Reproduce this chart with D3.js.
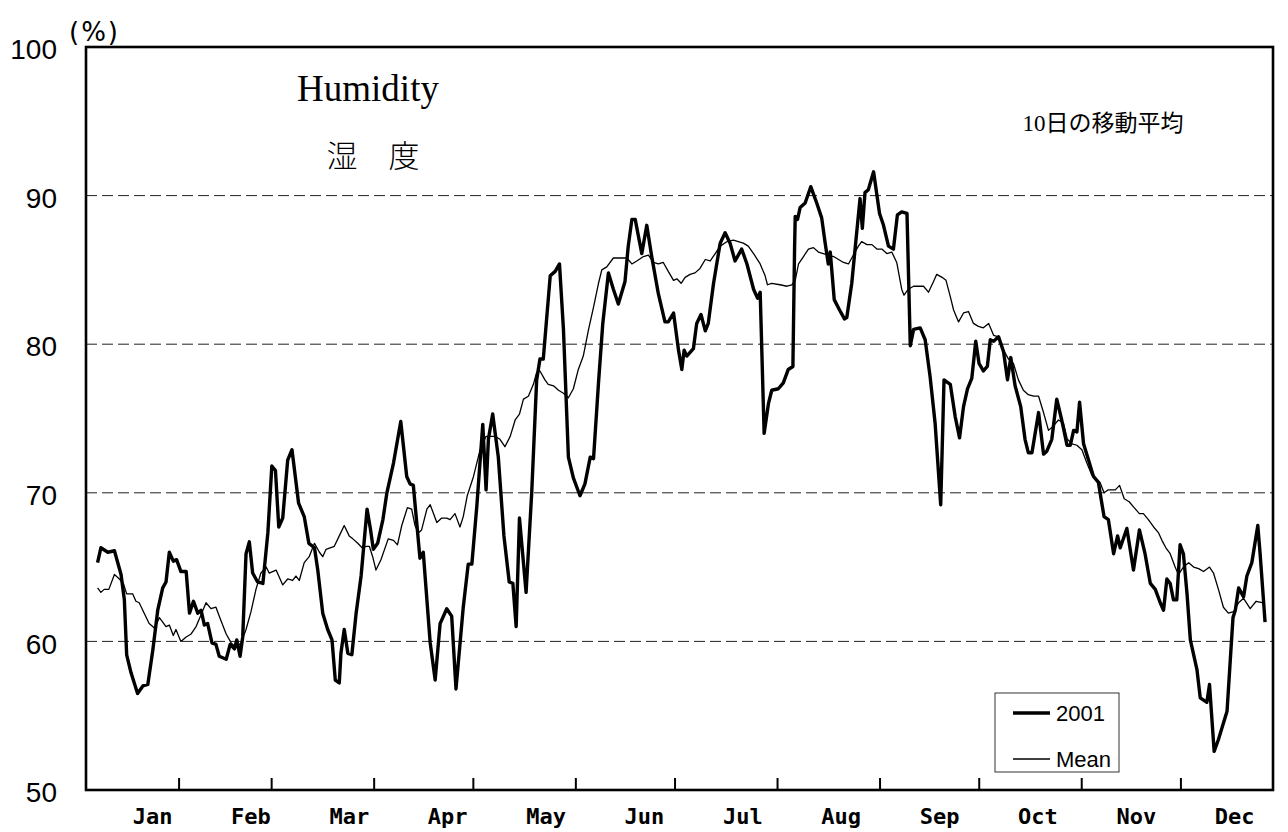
<!DOCTYPE html>
<html><head><meta charset="utf-8">
<script src="https://cdn.jsdelivr.net/npm/d3@7"></script>
<style>body{margin:0;background:#fff}svg{display:block}</style>
</head><body><svg id="c" width="1288" height="832"></svg>
<script>
// ---- data (day of year, humidity %) ----
const days2001=[7.5,8.5,10.6,12.6,14.6,15.6,16.3,17.6,19.6,21.2,22.7,24.2,25.7,27.2,28.2,29.2,30.4,31.4,32.7,34.3,35.3,36.5,37.8,38.8,39.8,40.8,42.1,43.3,44.3,46.4,47.6,48.9,49.6,50.6,51.4,52.4,53.4,54.4,55.9,57.5,59.0,60.2,61.3,62.3,63.5,65.0,66.3,68.3,70.0,71.4,73.1,74.1,75.6,77.1,78.4,79.4,80.6,81.1,82.1,83.2,84.4,85.7,87.2,89.0,90.0,90.9,92.2,93.8,95.0,97.0,99.2,101.0,102.0,103.0,105.0,106.0,108.1,109.6,111.1,113.1,114.6,115.9,118.1,119.6,120.7,122.2,124.0,125.0,125.7,127.0,128.7,130.4,132.0,133.1,134.1,135.1,137.1,138.8,140.3,141.3,142.3,144.4,145.9,147.2,148.4,149.9,151.4,153.4,154.9,156.5,157.5,159.0,160.3,162.0,163.5,165.0,167.0,168.0,169.1,170.1,172.1,173.6,175.1,177.1,179.1,180.1,181.7,183.2,184.2,184.9,185.7,187.7,188.7,190.0,191.3,192.2,193.8,195.8,197.3,198.8,200.3,202.3,203.9,205.9,207.1,207.9,209.1,210.4,211.4,213.4,214.9,216.4,217.8,218.3,218.5,219.2,220.0,221.5,223.2,225.0,226.5,227.5,228.5,229.1,230.3,231.9,233.4,234.1,235.6,236.6,238.1,238.8,239.6,240.6,242.2,244.0,245.2,246.7,248.2,249.4,250.7,252.3,253.3,254.3,256.3,257.8,259.3,260.8,262.5,263.5,265.4,266.9,268.2,269.4,270.6,271.9,273.1,274.1,275.4,276.6,277.5,278.5,280.0,281.5,282.7,283.7,285.0,286.7,288.0,289.0,290.1,292.1,293.6,294.6,296.1,297.6,299.1,300.7,301.7,302.7,303.7,304.5,305.7,307.2,308.7,310.2,310.7,311.9,313.2,314.8,316.0,316.8,318.8,320.8,322.6,324.3,325.9,327.4,328.9,329.9,330.9,331.9,332.9,333.9,334.9,335.9,337.0,338.0,340.0,341.0,343.0,343.8,345.2,346.5,349.1,350.1,350.9,351.6,352.6,354.1,355.1,356.6,358.4,359.1,360.6];
const hum2001=[65.3,66.3,66.0,66.1,64.5,62.8,59.1,57.9,56.5,57.0,57.1,59.4,62.1,63.6,64.0,66.0,65.4,65.5,64.7,64.7,61.9,62.7,61.9,62.1,61.1,61.2,59.9,59.8,59.0,58.8,59.8,59.5,60.1,59.0,60.3,65.9,66.7,64.6,64.0,63.9,67.3,71.8,71.5,67.7,68.3,72.2,72.9,69.3,68.4,66.6,66.3,64.8,61.9,60.8,60.1,57.4,57.2,59.2,60.8,59.2,59.1,61.9,64.4,68.9,67.6,66.2,66.6,68.2,70.0,72.0,74.8,71.1,70.6,70.5,65.6,66.0,59.9,57.4,61.2,62.2,61.7,56.8,62.3,65.2,65.2,69.1,74.6,70.2,73.6,75.3,72.4,67.1,64.0,63.9,61.0,68.3,63.3,70.0,77.6,79.0,79.0,84.6,84.9,85.4,81.0,72.4,71.0,69.8,70.6,72.4,72.3,77.4,81.4,84.8,83.7,82.7,84.2,86.6,88.4,88.4,86.1,88.0,85.9,83.4,81.5,81.5,82.1,79.6,78.3,79.6,79.2,79.7,81.4,82.0,80.9,81.4,84.1,86.8,87.5,86.8,85.6,86.4,85.4,83.7,83.1,83.5,74.0,76.0,76.9,77.0,77.4,78.3,78.5,86.4,88.6,88.4,89.2,89.5,90.6,89.5,88.5,86.9,85.4,86.2,83.0,82.3,81.7,81.8,84.1,86.4,89.8,87.8,90.2,90.4,91.6,88.8,88.0,86.6,86.4,88.7,88.9,88.8,79.9,81.0,81.1,80.3,77.8,74.7,69.2,77.6,77.3,75.1,73.7,75.8,77.0,77.7,80.2,78.7,78.2,78.5,80.3,80.2,80.5,79.5,77.6,79.1,77.2,75.8,73.6,72.7,72.7,75.4,72.6,72.8,73.6,76.3,74.9,73.2,73.2,74.2,74.1,76.1,73.3,72.2,71.1,70.7,70.0,68.4,68.2,65.9,67.1,66.3,67.6,64.8,67.5,65.9,63.9,63.5,62.6,62.1,64.2,63.9,62.8,62.8,66.5,65.9,63.2,60.1,58.1,56.2,55.9,57.1,52.6,53.4,55.3,58.8,61.6,62.1,63.6,63.0,64.4,65.3,67.8,65.9,61.3];
const daysMean=[7.5,8.5,9.5,10.9,12.6,14.1,15.3,16.3,18.1,19.1,20.1,21.6,23.1,24.7,26.2,28.2,29.2,30.4,31.2,32.7,34.3,35.8,37.3,38.8,40.3,41.8,43.3,44.8,46.4,47.9,49.4,50.9,52.4,53.9,55.4,56.9,58.5,59.4,61.5,63.5,65.0,66.5,67.5,68.5,70.0,71.5,73.1,74.6,75.6,76.6,79.1,80.6,82.1,83.6,84.7,86.2,87.5,88.7,89.7,90.7,91.7,93.2,95.4,97.0,98.2,99.5,101.2,102.5,103.5,104.5,105.5,107.1,108.1,110.1,111.6,113.1,114.1,115.6,117.1,118.1,119.3,121.2,123.2,125.0,126.2,127.7,129.2,130.7,132.3,133.8,135.1,136.3,137.8,139.3,140.3,141.3,142.8,143.8,145.4,146.9,148.4,149.9,151.4,152.9,154.4,156.0,157.5,159.0,160.0,161.5,163.5,165.5,167.6,169.1,170.6,172.6,174.1,175.6,177.1,178.6,180.1,181.7,182.7,184.0,185.2,186.7,188.2,189.7,191.3,192.8,194.3,195.8,197.8,199.8,201.3,202.8,204.3,205.9,207.9,209.4,210.1,211.4,213.9,216.0,217.5,218.5,219.5,221.0,222.5,224.0,225.5,227.0,228.5,230.1,231.6,233.1,234.6,236.1,237.6,238.6,240.2,241.7,243.2,244.7,246.2,247.7,249.2,250.7,251.4,252.7,254.3,255.8,257.3,258.8,260.3,261.3,262.9,264.1,265.4,266.4,267.9,269.4,270.9,272.4,273.9,275.4,277.0,278.5,280.0,281.5,283.0,284.5,286.0,287.5,289.0,290.6,292.1,293.6,295.1,296.6,298.1,299.6,300.8,302.2,303.7,305.2,306.7,308.2,309.7,310.7,311.9,313.2,315.3,316.6,318.0,319.5,321.0,322.6,323.8,325.3,326.9,328.4,329.4,330.6,331.9,333.4,334.4,335.9,337.5,339.0,340.5,342.0,343.8,345.0,346.5,348.0,349.5,351.1,352.6,354.1,356.1,357.9,360.1];
const humMean=[63.6,63.3,63.5,63.5,64.5,64.2,63.9,63.2,63.2,62.7,62.6,61.9,61.2,60.9,61.6,61.0,61.1,60.4,60.8,60.0,60.3,60.5,61.0,61.8,62.6,62.2,62.3,61.4,60.5,59.9,59.6,59.9,60.8,62.0,63.5,64.6,65.0,64.6,64.8,63.8,64.2,64.1,64.4,64.1,65.3,65.7,66.6,66.0,65.7,66.2,66.4,67.1,67.8,67.1,66.9,66.6,66.3,66.4,66.4,65.7,64.8,65.5,66.9,66.8,66.5,67.8,69.0,68.9,67.8,67.3,67.5,68.9,69.2,68.0,68.3,68.3,68.2,68.6,67.7,68.4,69.8,71.1,72.9,73.8,73.8,73.8,73.6,73.1,73.8,74.9,75.3,76.3,76.5,77.3,78.1,78.2,77.6,77.3,77.2,76.9,76.7,76.4,77.0,78.3,79.2,81.0,82.5,84.1,85.0,85.2,85.8,85.8,85.8,85.4,85.6,85.9,86.0,85.5,85.4,85.5,84.9,84.3,84.4,84.1,84.5,84.7,84.8,85.1,85.7,85.6,86.1,86.6,86.9,87.0,86.9,86.8,86.6,86.1,85.4,84.6,84.0,84.1,84.0,83.9,84.0,84.3,85.4,85.9,86.4,86.5,86.2,86.1,86.0,85.9,85.7,85.5,85.4,86.0,86.6,86.9,86.7,86.7,86.4,86.4,86.1,86.2,85.5,83.7,83.3,83.7,83.9,83.9,83.9,83.5,84.2,84.7,84.5,84.3,83.2,82.3,81.5,82.1,82.2,81.4,81.2,81.1,81.4,80.6,80.5,79.6,79.0,78.7,77.6,76.9,76.6,76.5,76.5,75.4,74.2,74.5,74.9,74.7,73.6,73.3,73.2,72.9,72.0,71.2,70.9,70.7,70.0,70.2,70.2,70.5,69.6,69.4,69.0,68.6,68.6,68.2,67.7,67.3,66.8,66.3,65.9,65.0,64.5,65.0,65.3,65.0,64.9,64.7,65.0,64.6,63.5,62.3,61.9,62.0,62.6,62.9,62.2,62.7,62.6];
const monthNames=["Jan","Feb","Mar","Apr","May","Jun","Jul","Aug","Sep","Oct","Nov","Dec"];
const monthStartDays=[32,60,91,121,152,182,213,244,274,305,335];
const monthLabelDays=[24,53.75,83.5,113.25,143,172.75,202.5,232.25,262,291.75,321.5,351.25];
const yTickValues=[50,60,70,80,90,100];
const gridValues=[60,70,80,90];
const dayDomain=[4,363];
const seriesNames=["2001","Mean"];

// ---- layout ----
const W=1288,H=832;
const m={left:86,top:47,right:15,bottom:42};
const svg=d3.select("#c");
const x=d3.scaleLinear().domain(dayDomain).range([m.left,W-m.right]);
const y=d3.scaleLinear().domain([50,100]).range([H-m.bottom,m.top]);

// gridlines
svg.append("g").selectAll("line").data(gridValues).join("line")
  .attr("x1",x.range()[0]).attr("x2",x.range()[1])
  .attr("y1",d=>y(d)).attr("y2",d=>y(d))
  .attr("stroke","#222").attr("stroke-width",1).attr("stroke-dasharray","11,5");

// lines
const mk=(ds,vs)=>ds.map((d,i)=>[d,vs[i]]);
const line=d3.line().x(d=>x(d[0])).y(d=>y(d[1]));
svg.append("path").datum(mk(daysMean,humMean)).attr("d",line)
  .attr("fill","none").attr("stroke","#000").attr("stroke-width",1.3).attr("stroke-linejoin","round");
svg.append("path").datum(mk(days2001,hum2001)).attr("d",line)
  .attr("fill","none").attr("stroke","#000").attr("stroke-width",3.4).attr("stroke-linejoin","round");

// frame
svg.append("rect").attr("x",x.range()[0]).attr("y",y.range()[1])
  .attr("width",x.range()[1]-x.range()[0]).attr("height",y.range()[0]-y.range()[1])
  .attr("fill","none").attr("stroke","#000").attr("stroke-width",2.6);

// y axis
const ya=svg.append("g").attr("transform",`translate(${m.left},0)`)
  .call(d3.axisLeft(y).tickValues(yTickValues).tickSize(0).tickPadding(29));
ya.select(".domain").remove();
ya.selectAll("text").attr("font-family","'Liberation Sans',Arial,sans-serif").attr("font-size",28).attr("fill","#000").attr("dy","0.42em");

// x ticks (inward)
const xt=svg.append("g").attr("transform",`translate(0,${H-m.bottom})`)
  .call(d3.axisBottom(x).tickValues(monthStartDays).tickSize(-12).tickFormat(""));
xt.select(".domain").remove();
xt.selectAll("line").attr("stroke","#000").attr("stroke-width",2);

// x labels
const xl=svg.append("g").attr("transform",`translate(0,${H-m.bottom})`)
  .call(d3.axisBottom(x).tickValues(monthLabelDays).tickSize(0).tickPadding(18).tickFormat((d,i)=>monthNames[i]));
xl.select(".domain").remove();
xl.selectAll("text").attr("font-family","'DejaVu Sans Mono',monospace").attr("font-weight","bold").attr("font-size",22).attr("fill","#000");

// unit label
svg.append("text").attr("x",69).attr("y",41)
  .attr("font-family","'DejaVu Sans',sans-serif").attr("font-size",26)
  .attr("letter-spacing",2).text("(%)");

// titles
svg.append("text").attr("x",368).attr("y",101).attr("text-anchor","middle")
  .attr("font-family","'Liberation Serif','Times New Roman',serif").attr("font-size",37).text("Humidity");
svg.append("text").attr("x",373).attr("y",167).attr("text-anchor","middle")
  .attr("font-family","'Noto Sans CJK JP',sans-serif").attr("font-weight",300).attr("font-size",31).text("湿　度");
svg.append("text").attr("x",1103).attr("y",131).attr("text-anchor","middle")
  .attr("font-family","'Liberation Serif','Noto Sans CJK JP',serif").attr("font-size",23).text("10日の移動平均");

// legend
const lg=svg.append("g");
lg.append("rect").attr("x",995).attr("y",693).attr("width",124).attr("height",79)
  .attr("fill","#fff").attr("stroke","#333").attr("stroke-width",1);
const lw=[3.4,1.3];
seriesNames.forEach((n,i)=>{
  const cy=713+i*46;
  lg.append("line").attr("x1",1013).attr("x2",1050).attr("y1",cy).attr("y2",cy)
    .attr("stroke","#000").attr("stroke-width",lw[i]);
  lg.append("text").attr("x",1056).attr("y",cy).attr("dy","0.36em")
    .attr("font-family",i===0?"'Liberation Sans',Arial,sans-serif":"'Liberation Sans Narrow','Liberation Sans',sans-serif")
    .attr("font-size",22).text(n);
});
</script></body></html>
